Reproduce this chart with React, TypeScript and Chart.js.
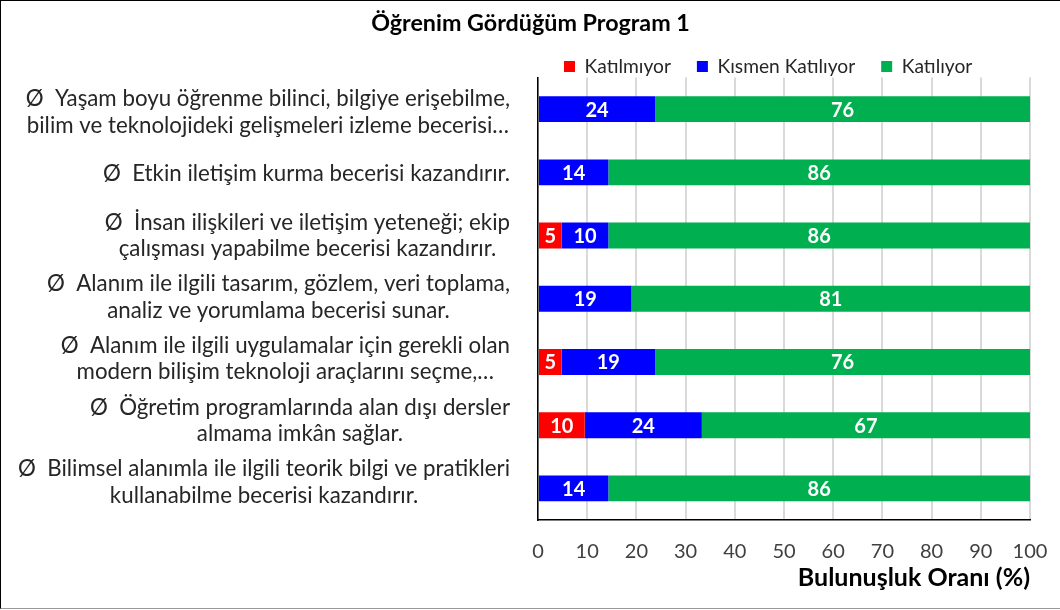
import React, { useEffect, useRef } from "react";
import { Chart, registerables } from "chart.js";

Chart.register(...registerables);

const titleText = "Öğrenim Gördüğüm Program 1";
const axisTitle = "Bulunuşluk Oranı (%)";
const seriesNames = ["Katılmıyor", "Kısmen Katılıyor", "Katılıyor"];
const seriesColors = ["#FF0000", "#0000FF", "#00B050"];

const categories: string[][] = [
  ["Ø  Yaşam boyu öğrenme bilinci, bilgiye erişebilme,", "bilim ve teknolojideki gelişmeleri izleme becerisi…"],
  ["Ø  Etkin iletişim kurma becerisi kazandırır."],
  ["Ø  İnsan ilişkileri ve iletişim yeteneği; ekip", "çalışması yapabilme becerisi kazandırır."],
  ["Ø  Alanım ile ilgili tasarım, gözlem, veri toplama,", "analiz ve yorumlama becerisi sunar."],
  ["Ø  Alanım ile ilgili uygulamalar için gerekli olan", "modern bilişim teknoloji araçlarını seçme,…"],
  ["Ø  Öğretim programlarında alan dışı dersler", "almama imkân sağlar."],
  ["Ø  Bilimsel alanımla ile ilgili teorik bilgi ve pratikleri", "kullanabilme becerisi kazandırır."],
];

const katilmiyor = [0, 0, 4.8, 0, 4.8, 9.5, 0];
const kismen = [23.8, 14.3, 9.5, 19.0, 19.0, 23.8, 14.3];
const katiliyor = [76.2, 85.7, 85.7, 81.0, 76.2, 66.7, 85.7];

const xMin = 0;
const xMax = 100;
const xStep = 10;

const FONT = "Lato, 'Open Sans', sans-serif";

const legendFitPlugin = {
  id: "legendFit",
  beforeLayout(chart: any) {
    const lg = chart.legend;
    if (lg && !lg.__patched) {
      const orig = lg.fit.bind(lg);
      lg.fit = function () {
        orig();
        this.height = Math.max(0, this.height - 8.5);
      };
      lg.__patched = true;
    }
  },
};

const yLabelPlugin = {
  id: "yLabels",
  afterDraw(chart: any) {
    const { ctx, chartArea } = chart;
    const yScale = chart.scales.y;
    ctx.save();
    ctx.font = `22.3px ${FONT}`;
    ctx.fillStyle = "#262626";
    ctx.textAlign = "center";
    ctx.textBaseline = "middle";
    const lh = 26.5;
    categories.forEach((lines, i) => {
      const yc = yScale.getPixelForValue(i) + 3 - 1.5 * i;
      const maxW = Math.max(...lines.map((l) => ctx.measureText(l).width));
      const right = chartArea.left - 28;
      const cx = right - maxW / 2;
      lines.forEach((l, j) => {
        ctx.fillText(l, cx, yc + (j - (lines.length - 1) / 2) * lh);
      });
    });
    ctx.restore();
  },
};

const barLabelPlugin = {
  id: "barLabels",
  afterDatasetsDraw(chart: any) {
    const { ctx } = chart;
    ctx.save();
    ctx.font = `bold 20px ${FONT}`;
    ctx.fillStyle = "#FFFFFF";
    ctx.textAlign = "center";
    ctx.textBaseline = "middle";
    chart.data.datasets.forEach((ds: any, di: number) => {
      const meta = chart.getDatasetMeta(di);
      meta.data.forEach((bar: any, i: number) => {
        const v = ds.data[i];
        if (!v) return;
        const x = (bar.x + bar.base) / 2;
        ctx.fillText(String(Math.round(v)), x, bar.y + 1);
      });
    });
    ctx.restore();
  },
};

export default function App() {
  const ref = useRef<HTMLCanvasElement>(null);
  useEffect(() => {
    document.body.style.margin = "0";
    const chart = new Chart(ref.current!, {
      type: "bar",
      data: {
        labels: categories.map((c) => c.join(" ")),
        datasets: [
          { label: seriesNames[0], data: katilmiyor, backgroundColor: seriesColors[0] },
          { label: seriesNames[1], data: kismen, backgroundColor: seriesColors[1] },
          { label: seriesNames[2], data: katiliyor, backgroundColor: seriesColors[2] },
        ],
      },
      options: {
        indexAxis: "y",
        responsive: false,
        animation: false,
        layout: { padding: { left: 0, right: 0, top: 0, bottom: 15 } },
        datasets: { bar: { categoryPercentage: 1, barPercentage: 0.41 } },
        scales: {
          x: {
            stacked: true,
            min: xMin,
            max: xMax,
            ticks: { stepSize: xStep, padding: 20, color: "#404040", font: { family: FONT, size: 20 } },
            grid: { color: "#d9d9d9", lineWidth: 2, drawTicks: false },
            border: { color: "#000000", width: 1.5 },
            title: {
              display: true,
              text: axisTitle,
              align: "end",
              color: "#000000",
              font: { family: FONT, size: 25, weight: "bold" },
              padding: { top: 4, bottom: 0 },
            },
            afterFit: (s: any) => {
              s.height = 73;
              s.paddingRight = 30;
              s.paddingLeft = 0;
            },
          },
          y: {
            stacked: true,
            ticks: { display: false },
            grid: { display: false },
            border: { color: "#000000", width: 1.5 },
            afterFit: (s: any) => { s.width = 537; },
          },
        },
        plugins: {
          title: {
            display: true,
            text: titleText,
            color: "#000000",
            font: { family: FONT, size: 23.3, weight: "bold", lineHeight: 0.2 },
            padding: { top: 19.7, bottom: 5.5 },
          },
          legend: {
            fullSize: false,
            align: "start",
            labels: {
              boxWidth: 11,
              boxHeight: 11,
              padding: 26,
              color: "#262626",
              font: { family: FONT, size: 19.2 },
            },
          },
          tooltip: { enabled: false },
        },
      },
      plugins: [legendFitPlugin, yLabelPlugin, barLabelPlugin],
    });
    return () => chart.destroy();
  }, []);
  return (
    <div
      style={{
        width: 1060,
        height: 609,
        borderLeft: "1px solid #000",
        borderTop: "1px solid #000",
        borderBottom: "1px solid #999",
        boxSizing: "border-box",
        background: "#fff",
      }}
    >
      <canvas ref={ref} width={1059} height={607} style={{ display: "block" }} />
    </div>
  );
}
